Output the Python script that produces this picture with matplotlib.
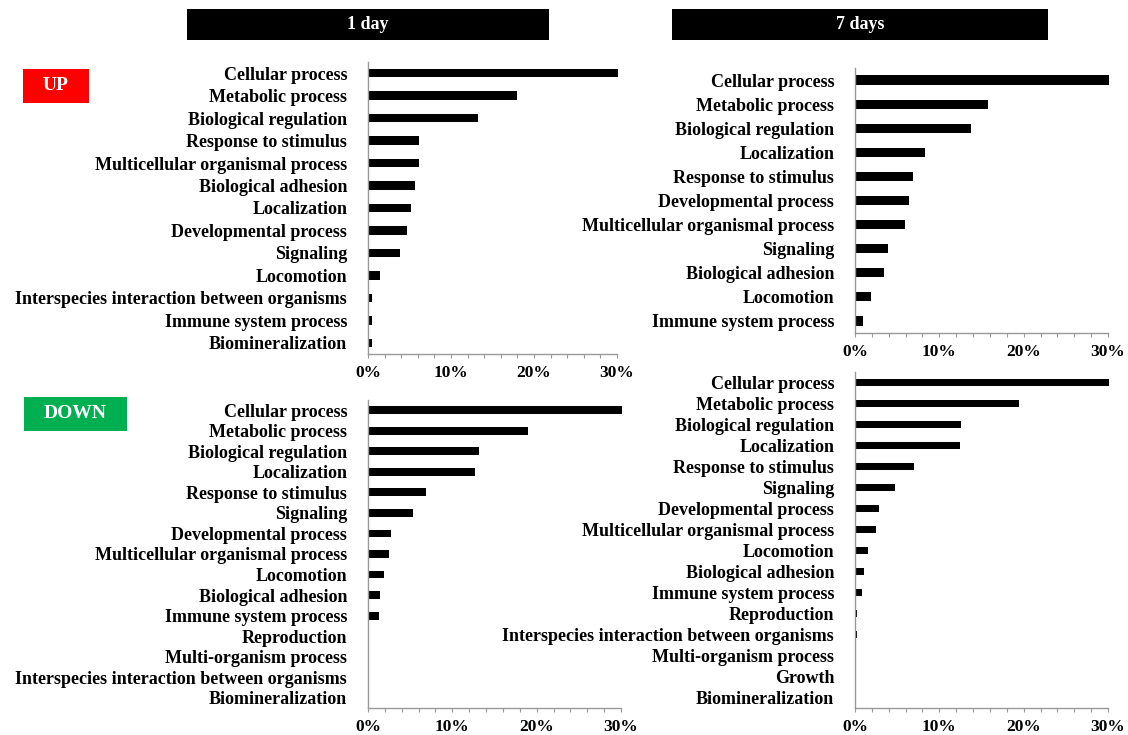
import matplotlib.pyplot as plt
from matplotlib.patches import Rectangle
from matplotlib.ticker import MultipleLocator, FuncFormatter

plt.rcParams['font.family'] = 'Liberation Serif'
plt.rcParams['font.weight'] = 'bold'

# UP, 1 day
up1_terms = ['Cellular process', 'Metabolic process', 'Biological regulation',
             'Response to stimulus', 'Multicellular organismal process',
             'Biological adhesion', 'Localization', 'Developmental process',
             'Signaling', 'Locomotion', 'Interspecies interaction between organisms',
             'Immune system process', 'Biomineralization']
up1_vals = [30.1, 17.9, 13.2, 6.2, 6.2, 5.7, 5.2, 4.7, 3.8, 1.4, 0.5, 0.5, 0.5]

# UP, 7 days
up7_terms = ['Cellular process', 'Metabolic process', 'Biological regulation',
             'Localization', 'Response to stimulus', 'Developmental process',
             'Multicellular organismal process', 'Signaling', 'Biological adhesion',
             'Locomotion', 'Immune system process']
up7_vals = [30.1, 15.75, 13.8, 8.3, 6.9, 6.4, 5.9, 3.9, 3.4, 1.9, 1.0]

# DOWN, 1 day
dn1_terms = ['Cellular process', 'Metabolic process', 'Biological regulation',
             'Localization', 'Response to stimulus', 'Signaling',
             'Developmental process', 'Multicellular organismal process',
             'Locomotion', 'Biological adhesion', 'Immune system process',
             'Reproduction', 'Multi-organism process',
             'Interspecies interaction between organisms', 'Biomineralization']
dn1_vals = [30.1, 19.0, 13.2, 12.7, 6.9, 5.3, 2.7, 2.5, 1.9, 1.4, 1.3,
            0.12, 0.1, 0.1, 0.1]

# DOWN, 7 days
dn7_terms = ['Cellular process', 'Metabolic process', 'Biological regulation',
             'Localization', 'Response to stimulus', 'Signaling',
             'Developmental process', 'Multicellular organismal process',
             'Locomotion', 'Biological adhesion', 'Immune system process',
             'Reproduction', 'Interspecies interaction between organisms',
             'Multi-organism process', 'Growth', 'Biomineralization']
dn7_vals = [30.1, 19.4, 12.6, 12.4, 7.0, 4.7, 2.8, 2.5, 1.5, 1.1, 0.8,
            0.18, 0.18, 0.12, 0.12, 0.0]

W, H = 1128, 735
fig = plt.figure(figsize=(W / 100, H / 100), dpi=100)


def px_axes(x0, x1, y0, y1):
    return fig.add_axes([x0 / W, 1 - y1 / H, (x1 - x0) / W, (y1 - y0) / H])


def panel(ax, terms, vals, fs=13):
    n = len(terms)
    ax.barh(range(n), vals, height=0.38, color='black', clip_on=False)
    ax.set_ylim(n - 0.5, -0.5)
    ax.set_xlim(0, 30)
    ax.set_yticks(range(n))
    ax.set_yticklabels(terms, fontsize=fs, fontweight='bold')
    ax.tick_params(axis='y', length=0, pad=15)
    ax.xaxis.set_major_locator(MultipleLocator(2))
    ax.xaxis.set_major_formatter(FuncFormatter(
        lambda v, p: f'{int(round(v))}%' if round(v) % 10 == 0 else ''))
    ax.tick_params(axis='x', length=3, color='#999999', labelsize=12.5, pad=5)
    for lab in ax.get_xticklabels():
        lab.set_fontweight('bold')
    for s in ['top', 'right']:
        ax.spines[s].set_visible(False)
    for s in ['left', 'bottom']:
        ax.spines[s].set_color('#999999')
        ax.spines[s].set_linewidth(1.0)


ax1 = px_axes(368, 617, 62, 354)
panel(ax1, up1_terms, up1_vals)
ax2 = px_axes(855, 1108, 68, 333)
panel(ax2, up7_terms, up7_vals)
ax3 = px_axes(368, 621, 400, 708)
panel(ax3, dn1_terms, dn1_vals)
ax4 = px_axes(855, 1108, 372, 708)
panel(ax4, dn7_terms, dn7_vals)


def box(x0, y0, x1, y1, color, text, fs=13):
    fig.patches.append(Rectangle((x0 / W, 1 - y1 / H), (x1 - x0) / W, (y1 - y0) / H,
                                 transform=fig.transFigure, facecolor=color,
                                 edgecolor='none'))
    fig.text((x0 + x1) / 2 / W, 1 - (y0 + y1) / 2 / H, text, color='white',
             fontsize=fs, fontweight='bold', ha='center', va='center')


box(187, 9, 549, 40, 'black', '1 day')
box(672, 9, 1048, 40, 'black', '7 days')
box(23, 69, 89, 103, '#ff0000', 'UP', 14)
box(24, 397, 127, 431, '#00b050', 'DOWN', 14)

fig.savefig('out.png', dpi=100)
